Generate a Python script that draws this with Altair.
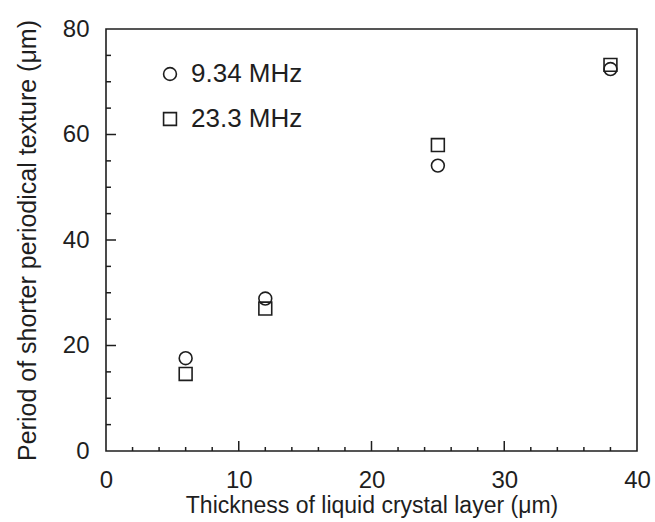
import altair as alt
import pandas as pd

# Data
thickness = [6, 12, 25, 38]
period_934 = [17.6, 28.9, 54.1, 72.4]
period_233 = [14.6, 27.0, 58.0, 73.2]
series_names = ["9.34 MHz", "23.3 MHz"]

x_major = [10, 20, 30]
x_minor = [2, 4, 6, 8, 12, 14, 16, 18, 22, 24, 26, 28, 32, 34, 36, 38]
y_major = [20, 40, 60]
y_minor = [5, 10, 15, 25, 30, 35, 45, 50, 55, 65, 70, 75]

W, H = 531, 422
FONT = "Liberation Sans"
INK = "#1e1e1e"

df = pd.DataFrame({
    "x": thickness * 2,
    "y": period_934 + period_233,
    "s": [series_names[0]] * 4 + [series_names[1]] * 4,
})

xs = alt.Scale(domain=[0, 40], nice=False, zero=False)
ys = alt.Scale(domain=[0, 80], nice=False, zero=False)

xaxis = alt.Axis(
    title="Thickness of liquid crystal layer (μm)", values=[0, 10, 20, 30, 40],
    ticks=False, tickSize=0, domain=False, grid=False, labelPadding=17, labelFlush=False,
    labelFontSize=24, titleFontSize=23, titlePadding=2, labelFont=FONT, titleFont=FONT,
    labelColor=INK, titleColor=INK, titleFontWeight="normal")
yaxis = alt.Axis(
    title="Period of shorter periodical texture (μm)", values=[0, 20, 40, 60, 80],
    ticks=False, tickSize=0, domain=False, grid=False, labelPadding=17, labelFlush=False,
    labelFontSize=24, titleFontSize=25, titlePadding=22, labelFont=FONT, titleFont=FONT,
    labelColor=INK, titleColor=INK, titleFontWeight="normal", titleLimit=1000)

points = alt.Chart(df).mark_point(filled=False, size=165, strokeWidth=1.6, color=INK, opacity=1).encode(
    x=alt.X("x:Q", scale=xs, axis=xaxis),
    y=alt.Y("y:Q", scale=ys, axis=yaxis),
    shape=alt.Shape("s:N", scale=alt.Scale(domain=series_names, range=["circle", "square"]),
                    legend=alt.Legend(title=None, orient="none", legendX=51, legendY=32,
                                      labelFontSize=26, labelFont=FONT, labelColor=INK,
                                      labelOffset=8, rowPadding=19, padding=0,
                                      symbolSize=165, symbolStrokeWidth=1.6,
                                      symbolStrokeColor=INK, symbolFillColor="transparent")),
)

def xticks(vals, length):
    return alt.Chart(pd.DataFrame({"x": vals})).mark_rule(color=INK, strokeWidth=1.5).encode(
        x=alt.X("x:Q", scale=xs, axis=xaxis), y=alt.value(H), y2=alt.value(H - length))

def yticks(vals, length):
    return alt.Chart(pd.DataFrame({"y": vals})).mark_rule(color=INK, strokeWidth=1.5).encode(
        y=alt.Y("y:Q", scale=ys, axis=yaxis), x=alt.value(0), x2=alt.value(length))

chart = alt.layer(
    points, xticks(x_major, 10), xticks(x_minor, 4), yticks(y_major, 10), yticks(y_minor, 5)
).properties(
    width=W, height=H,
    background="white",
    autosize=alt.AutoSizeParams(type="none"),
    padding={"left": 106, "top": 29, "right": 18, "bottom": 71},
).configure_view(stroke=INK, strokeWidth=1.6)

chart.save("out.html", embed_options={"renderer": "svg", "actions": False})
